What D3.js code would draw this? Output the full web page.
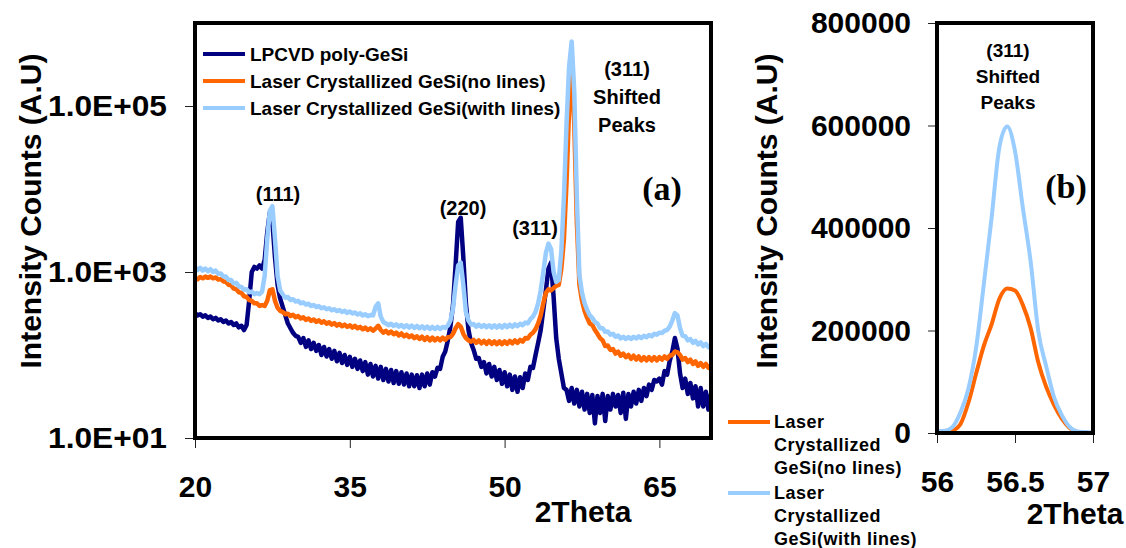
<!DOCTYPE html>
<html lang="en">

<head>
  <meta charset="UTF-8">
  <script src="https://d3js.org/d3.v7.min.js"></script>
  <title>XRD GeSi</title>
  <style>
    body { margin: 0; background: #fff; }
    text { font-family: "Liberation Sans", Arial, sans-serif; font-weight: bold; fill: #000; }
    .axis path { display: none; }
    .axis line { stroke: #222; stroke-width: 1px; }
    .axis text { font-size: 30px; }
  </style>
</head>

<body>
  <div id="chart"></div>
  <script>
    // ---- data ----
    // scan grid of panel (a), 2Theta in degrees
    const twoTheta = d3.range(20, 70.001, 0.25);

    const lpcvd = [
      320, 300, 310, 290, 300, 280, 290, 270, 280, 260, 270, 250, 260, 240, 250, 230, 240, 215, 225, 200,
      230, 450, 1000, 1150, 1100, 1200, 1100, 1400, 3000, 5200, 4000, 1500, 700, 480, 380, 300, 240, 210, 185, 170,
      165, 140, 160, 125, 150, 118, 140, 112, 132, 100, 125, 96, 118, 90, 112, 84, 106, 80, 100, 76,
      95, 72, 90, 68, 86, 64, 82, 58, 78, 55, 74, 52, 72, 50, 68, 48, 66, 46, 64, 45,
      62, 44, 60, 42, 58, 42, 57, 40, 58, 42, 60, 44, 62, 55, 70, 68, 95, 110, 150, 220,
      400, 1200, 4000, 4500, 1500, 420, 200, 140, 115, 90, 92, 72, 82, 60, 78, 55, 72, 50, 66, 45,
      62, 42, 58, 38, 55, 36, 54, 40, 60, 50, 72, 70, 100, 140, 200, 350, 600, 1100, 1300, 500,
      160, 90, 60, 40, 38, 28, 40, 26, 38, 24, 36, 22, 34, 20, 33, 15, 32, 20, 34, 16,
      32, 22, 34, 24, 33, 20, 35, 17, 34, 24, 36, 26, 38, 28, 40, 32, 44, 38, 50, 48,
      52, 44, 64, 58, 85, 110, 160, 120, 60, 40, 52, 34, 46, 30, 42, 24, 40, 24, 36, 22,
      34
    ];

    const noLines = [
      850, 820, 870, 840, 880, 850, 880, 840, 860, 810, 820, 770, 760, 700, 690, 630, 620, 570, 560, 510,
      500, 460, 450, 420, 420, 390, 400, 390, 450, 600, 620, 450, 370, 340, 330, 310, 315, 295, 305, 285,
      295, 275, 285, 265, 275, 258, 268, 250, 262, 245, 255, 238, 248, 232, 242, 226, 236, 222, 232, 218,
      228, 214, 224, 210, 218, 204, 214, 200, 210, 196, 208, 225, 200, 186, 196, 182, 192, 178, 186, 172,
      182, 168, 176, 164, 172, 160, 168, 156, 166, 152, 164, 150, 162, 150, 160, 150, 162, 152, 164, 165,
      180, 210, 235, 220, 180, 160, 150, 145, 152, 140, 150, 138, 148, 136, 148, 136, 146, 135, 146, 135,
      146, 136, 148, 138, 150, 140, 152, 145, 160, 158, 175, 185, 205, 240, 300, 420, 560, 620, 600, 640,
      680, 700, 1100, 2500, 12000, 90000, 280000, 60000, 4000, 700, 450, 340, 280, 240, 230, 200, 180, 160, 150, 128,
      130, 115, 118, 104, 110, 98, 104, 94, 100, 90, 98, 88, 96, 86, 94, 86, 94, 86, 94, 86,
      94, 88, 96, 90, 98, 100, 110, 108, 100, 88, 92, 82, 88, 78, 84, 74, 80, 72, 78, 70,
      76
    ];

    const withLines = [
      1150, 1060, 1120, 1040, 1100, 1020, 1080, 1000, 1040, 950, 960, 880, 880, 800, 800, 730, 740, 670, 660, 610,
      620, 570, 580, 540, 560, 540, 580, 900, 2500, 5500, 6200, 2500, 900, 600, 540, 490, 500, 460, 470, 440,
      450, 420, 430, 405, 415, 390, 400, 378, 388, 366, 376, 356, 366, 346, 356, 338, 348, 330, 340, 322,
      334, 316, 326, 308, 318, 300, 310, 294, 304, 300, 380, 420, 290, 250, 240, 228, 238, 224, 234, 220,
      230, 216, 228, 214, 226, 212, 224, 210, 222, 208, 220, 206, 218, 206, 218, 206, 218, 212, 226, 260,
      360, 700, 1200, 1300, 700, 330, 260, 232, 236, 220, 232, 218, 230, 216, 228, 214, 228, 214, 228, 214,
      230, 216, 232, 218, 234, 222, 238, 228, 246, 240, 270, 290, 330, 420, 600, 1000, 1700, 2200, 1900, 1000,
      760, 800, 1800, 8000, 60000, 300000, 600000, 150000, 8000, 900, 560, 420, 350, 300, 280, 250, 240, 210, 210, 190,
      192, 176, 180, 166, 172, 158, 166, 156, 164, 156, 166, 158, 168, 160, 170, 164, 174, 168, 180, 176,
      186, 184, 196, 200, 220, 260, 320, 300, 210, 170, 168, 150, 156, 140, 148, 134, 142, 128, 136, 124,
      132
    ];

    // panel (b): zoom on the shifted (311) peak
    const zoomTheta = [56.00, 56.05, 56.10, 56.15, 56.20, 56.25, 56.30, 56.35, 56.40, 56.45, 56.50,
      56.55, 56.60, 56.65, 56.70, 56.75, 56.80, 56.85, 56.90, 56.95, 57.00];
    const zoomNoLines = [0, 0, 4000, 17000, 58000, 115000, 170000, 212000, 262000, 282000, 278000,
      250000, 205000, 137000, 90000, 55000, 28000, 10000, 2000, 500, 0];
    const zoomWithLines = [4000, 4500, 12000, 40000, 85000, 165000, 290000, 420000, 558000, 598000, 550000,
      440000, 335000, 197000, 130000, 70000, 35000, 12000, 3000, 2000, 1500];

    const seriesNames = ["LPCVD poly-GeSi", "Laser Crystallized GeSi(no lines)", "Laser Crystallized GeSi(with lines)"];
    const seriesColors = ["#000080", "#FF6600", "#99CCFF"];

    const logTicks = [10, 1e3, 1e5];
    const logTickLabels = ["1.0E+01", "1.0E+03", "1.0E+05"];
    const xTicksA = [20, 35, 50, 65];
    const yTicksB = [0, 200000, 400000, 600000, 800000];
    const xTicksB = [56, 56.5, 57];

    // ---- layout ----
    const width = 1126, height = 548;
    const svg = d3.select("#chart").append("svg")
      .attr("width", width)
      .attr("height", height);

    // ================= panel (a) =================
    const xA = d3.scaleLinear().domain([20, 70]).range([195, 711]);
    const yA = d3.scaleLog().domain([10, 1e6]).range([438, 23]);

    svg.append("clipPath").attr("id", "clipA")
      .append("rect").attr("x", 195).attr("y", 23).attr("width", 516).attr("height", 415);

    const yAxisA = svg.append("g").attr("class", "axis")
      .attr("transform", "translate(195,0)")
      .call(d3.axisLeft(yA).tickValues(logTicks).tickSize(10).tickPadding(18)
        .tickFormat((d, i) => logTickLabels[i]));
    // the labels are a bit narrower than plain Arial in the original
    yAxisA.selectAll("text")
      .style("font-size", "29px")
      .attr("textLength", 119)
      .attr("lengthAdjust", "spacingAndGlyphs");

    svg.append("g").attr("class", "axis")
      .attr("transform", "translate(0,438)")
      .call(d3.axisBottom(xA).tickValues(xTicksA).tickSize(10).tickPadding(28));

    const lineA = d3.line()
      .x((d, i) => xA(twoTheta[i]))
      .y(d => yA(d));

    const plotA = svg.append("g").attr("clip-path", "url(#clipA)");
    [lpcvd, noLines, withLines].forEach((s, k) => {
      plotA.append("path")
        .datum(s)
        .attr("d", lineA)
        .attr("fill", "none")
        .attr("stroke", seriesColors[k])
        .attr("stroke-width", 4.5)
        .attr("stroke-linejoin", "round");
    });

    svg.append("rect")
      .attr("x", 195).attr("y", 23).attr("width", 516).attr("height", 415)
      .attr("fill", "none").attr("stroke", "#000").attr("stroke-width", 4);

    // legend (a)
    const legA = svg.append("g");
    seriesNames.forEach((name, k) => {
      const yy = 54 + k * 27;
      legA.append("line")
        .attr("x1", 203).attr("x2", 245).attr("y1", yy).attr("y2", yy)
        .attr("stroke", seriesColors[k]).attr("stroke-width", 4);
      legA.append("text")
        .attr("x", 250).attr("y", yy + 7)
        .style("font-size", "19px")
        .text(name);
    });

    // peak labels (a)
    const labelsA = [
      { t: "(111)", x: 278, y: 201 },
      { t: "(220)", x: 463, y: 215 },
      { t: "(311)", x: 535, y: 235 },
      { t: "(311)", x: 627, y: 76 },
      { t: "Shifted", x: 627, y: 104 },
      { t: "Peaks", x: 627, y: 132 }
    ];
    svg.selectAll(".lblA").data(labelsA).enter().append("text")
      .attr("x", d => d.x).attr("y", d => d.y)
      .attr("text-anchor", "middle")
      .style("font-size", "20px")
      .text(d => d.t);

    svg.append("text")
      .attr("x", 662).attr("y", 200)
      .attr("text-anchor", "middle")
      .style("font-family", "'Liberation Serif', 'Times New Roman', serif")
      .style("font-size", "34px")
      .text("(a)");

    svg.append("text")
      .attr("transform", "translate(41,211) rotate(-90)")
      .attr("text-anchor", "middle")
      .style("font-size", "30px")
      .text("Intensity Counts (A.U)");

    svg.append("text")
      .attr("x", 583).attr("y", 522)
      .attr("text-anchor", "middle")
      .style("font-size", "30px")
      .text("2Theta");

    // ================= panel (b) =================
    const xB = d3.scaleLinear().domain([56, 57]).range([937, 1093]);
    const yB = d3.scaleLinear().domain([0, 800000]).range([433, 23]);

    svg.append("g").attr("class", "axis")
      .attr("transform", "translate(937,0)")
      .call(d3.axisLeft(yB).tickValues(yTicksB).tickSize(9).tickPadding(17)
        .tickFormat(d3.format("d")));

    svg.append("g").attr("class", "axis")
      .attr("transform", "translate(0,433)")
      .call(d3.axisBottom(xB).tickValues(xTicksB).tickSize(10).tickPadding(28)
        .tickFormat(d => String(d)));

    const lineB = d3.line()
      .x((d, i) => xB(zoomTheta[i]))
      .y(d => yB(d))
      .curve(d3.curveMonotoneX);

    [zoomNoLines, zoomWithLines].forEach((s, k) => {
      svg.append("path")
        .datum(s)
        .attr("d", lineB)
        .attr("fill", "none")
        .attr("stroke", seriesColors[k + 1])
        .attr("stroke-width", 4);
    });

    svg.append("rect")
      .attr("x", 937).attr("y", 23).attr("width", 156).attr("height", 410)
      .attr("fill", "none").attr("stroke", "#000").attr("stroke-width", 4);

    // legend (b), wrapped over three lines
    const legB = svg.append("g");
    const wrapped = [["Laser", "Crystallized", "GeSi(no lines)"], ["Laser", "Crystallized", "GeSi(with lines)"]];
    wrapped.forEach((lines, k) => {
      const yy = 422 + k * 71;
      legB.append("line")
        .attr("x1", 728).attr("x2", 770).attr("y1", yy).attr("y2", yy)
        .attr("stroke", seriesColors[k + 1]).attr("stroke-width", 4);
      lines.forEach((ln, j) => {
        legB.append("text")
          .attr("x", 774).attr("y", yy + 6 + j * 23)
          .style("font-size", "18px")
          .style("letter-spacing", "0.5px")
          .text(ln);
      });
    });

    const labelsB = [
      { t: "(311)", y: 57 },
      { t: "Shifted", y: 83 },
      { t: "Peaks", y: 109 }
    ];
    svg.selectAll(".lblB").data(labelsB).enter().append("text")
      .attr("x", 1008).attr("y", d => d.y)
      .attr("text-anchor", "middle")
      .style("font-size", "19px")
      .text(d => d.t);

    svg.append("text")
      .attr("x", 1066).attr("y", 198)
      .attr("text-anchor", "middle")
      .style("font-family", "'Liberation Serif', 'Times New Roman', serif")
      .style("font-size", "34px")
      .text("(b)");

    svg.append("text")
      .attr("transform", "translate(777,211) rotate(-90)")
      .attr("text-anchor", "middle")
      .style("font-size", "30px")
      .text("Intensity Counts (A.U)");

    svg.append("text")
      .attr("x", 1075).attr("y", 524)
      .attr("text-anchor", "middle")
      .style("font-size", "30px")
      .text("2Theta");
  </script>
</body>

</html>
